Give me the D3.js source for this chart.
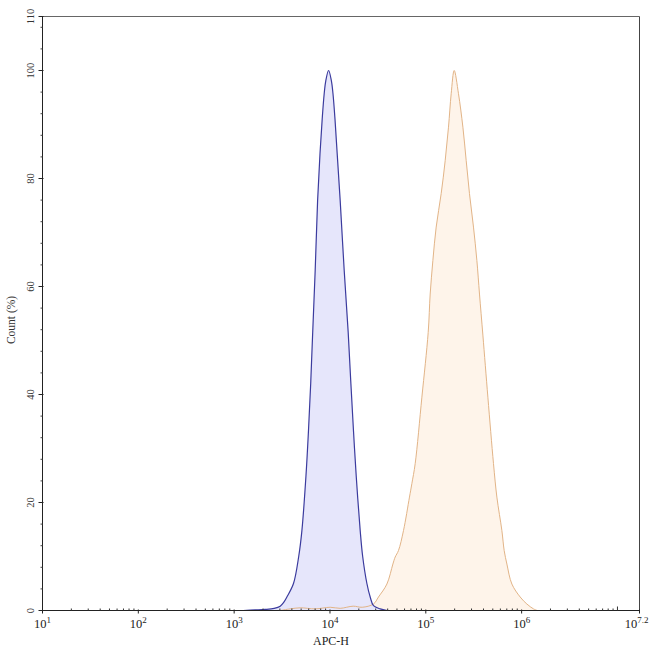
<!DOCTYPE html>
<html>
<head>
<meta charset="utf-8">
<script src="https://cdn.jsdelivr.net/npm/d3@7"></script>
<style>
html,body{margin:0;padding:0;background:#fff;}
svg{display:block;}
</style>
</head>
<body>
<svg id="chart" width="650" height="652"></svg>
<script>
// ---- data (APC-H fluorescence, count %) ----
const blueX = [1243,1658,2108,2617,3023,3289,3551,4161,4716,5093,5619,5965,6291,6601,7010,7427,7866,8293,8700,9042,9672,10344,10750,11280,11890,12780,14070,15490,16530,17590,18770,20670,21940,24280,26280,28440,33410,39530];
const blueY = [0,0.1,0.2,0.4,0.8,1.5,2.5,5,10,14.8,25,33.3,42,51.5,63,75.9,84.6,91,95.7,98.1,100,98.1,95.7,91,84.6,75.9,63,51.5,42,33.3,25,14.8,10,5,2.5,0.9,0.3,0];

const orangeX = [3023,3843,4888,7010,10050,12780,17470,21680,28440,32080,39260,45340,47910,51860,58500,67550,71550,77480,91010,105900,111100,118500,128300,144700,159300,172500,184000,197800,219300,243800,263900,285600,314500,341200,363300,394100,444400,508600,551600,622100,657500,701800,791100,965800,1134000,1329000,1453000];
const orangeY = [0,0.3,0.5,0.3,0.6,0.4,0.8,0.6,1.2,2.5,4.9,8.6,9.9,11.1,14.8,21,23.5,27.2,39.5,51.5,58.6,64.8,71,77.2,83.3,89.5,95.7,100,95.7,89.5,83.3,77.2,71,64.8,58.6,51,39.5,27.2,21,14.8,11.1,8.6,4.9,2.5,1.2,0.3,0];

const xMajorExp = [1,2,3,4,5,6];
const xEndExpLabel = "7.2";
const xDomain = [10, Math.pow(10, 7.23)];
const yDomain = [0, 110];
const yLabelTicks = [0,20,40,60,80,100,110];
const yMinorStep = 4;

const xTitle = "APC-H";
const yTitle = "Count (%)";

// ---- layout ----
const L = 42.5, R = 639.5, T = 16.5, B = 610.5;
const svg = d3.select("#chart");
const x = d3.scaleLog().domain(xDomain).range([L, R]);
const y = d3.scaleLinear().domain(yDomain).range([B, T]);

const curve = d3.curveCatmullRom.alpha(0.5);
const area = (xs, ys) => d3.area()
  .x((d,i) => x(xs[i])).y0(y(0)).y1((d,i) => Math.min(y(0), y(ys[i])))
  .curve(curve)(ys);
const line = (xs, ys) => d3.line()
  .x((d,i) => x(xs[i])).y((d,i) => Math.min(y(0), y(ys[i])))
  .curve(curve)(ys);

const plot = svg.append("g");
plot.append("path").attr("d", area(orangeX, orangeY)).attr("fill", "#fef4ea");
plot.append("path").attr("d", area(blueX, blueY)).attr("fill", "#e6e6fb");
plot.append("path").attr("d", line(orangeX, orangeY)).attr("fill", "none").attr("stroke", "#e2b487").attr("stroke-width", 1);
plot.append("path").attr("d", line(blueX, blueY)).attr("fill", "none").attr("stroke", "#3b3b9e").attr("stroke-width", 1.2);

// ---- frame ----
svg.append("line").attr("x1", L).attr("x2", R).attr("y1", T).attr("y2", T).attr("stroke", "#666");
svg.append("line").attr("x1", R).attr("x2", R).attr("y1", T).attr("y2", B).attr("stroke", "#444");

// ---- x axis ----
const gx = svg.append("g");
gx.append("line").attr("x1", L).attr("x2", R).attr("y1", B).attr("y2", B).attr("stroke", "#222");
const minors = [];
for (let e = 1; e <= 7; e++) {
  for (let m = 2; m <= 9; m++) {
    const v = m * Math.pow(10, e);
    if (v < xDomain[1]) minors.push(v);
  }
}
gx.selectAll("line.minor").data(minors).enter().append("line")
  .attr("x1", d => x(d)).attr("x2", d => x(d))
  .attr("y1", B).attr("y2", B - 2).attr("stroke", "#333");
gx.append("line").attr("x1", x(1e7)).attr("x2", x(1e7)).attr("y1", B).attr("y2", B - 4).attr("stroke", "#333");
gx.selectAll("line.major").data(xMajorExp).enter().append("line")
  .attr("x1", d => x(Math.pow(10, d))).attr("x2", d => x(Math.pow(10, d)))
  .attr("y1", B - 1).attr("y2", B + 3).attr("stroke", "#222");
gx.append("line").attr("x1", R).attr("x2", R).attr("y1", B - 1).attr("y2", B + 3).attr("stroke", "#222");

const xLab = xMajorExp.map(e => ({pos: x(Math.pow(10, e)), sup: String(e), anchor: "middle"}))
  .concat([{pos: 648.5, sup: xEndExpLabel, anchor: "end"}]);
const tl = gx.selectAll("text.xl").data(xLab).enter().append("text")
  .attr("x", d => d.pos).attr("y", 628)
  .attr("text-anchor", d => d.anchor)
  .attr("font-family", "'Liberation Serif', 'Times New Roman', serif")
  .attr("font-size", 12.5).attr("fill", "#222");
tl.append("tspan").text("10");
tl.append("tspan").attr("dy", -5).attr("font-size", 9).text(d => d.sup);

svg.append("text").attr("x", 331).attr("y", 645).attr("text-anchor", "middle")
  .attr("font-family", "'Liberation Serif', 'Times New Roman', serif")
  .attr("font-size", 12).attr("fill", "#222").text(xTitle);

// ---- y axis ----
const gy = svg.append("g");
gy.append("line").attr("x1", L).attr("x2", L).attr("y1", T).attr("y2", B).attr("stroke", "#222");
const yMinors = d3.range(0, yDomain[1] + 0.001, yMinorStep);
gy.selectAll("line.ym").data(yMinors).enter().append("line")
  .attr("x1", L - 2).attr("x2", L).attr("y1", d => y(d)).attr("y2", d => y(d)).attr("stroke", "#444");
gy.selectAll("line.yM").data(yLabelTicks).enter().append("line")
  .attr("x1", L - 4).attr("x2", L + 1).attr("y1", d => y(d)).attr("y2", d => y(d)).attr("stroke", "#222");
gy.selectAll("text.yl").data(yLabelTicks).enter().append("text")
  .attr("transform", d => `translate(33.5,${y(d)}) rotate(-90)`)
  .attr("text-anchor", "middle")
  .attr("font-family", "'Liberation Serif', 'Times New Roman', serif")
  .attr("font-size", 10.5).attr("fill", "#333").text(d => d);

svg.append("text").attr("transform", "translate(14.5,320) rotate(-90)")
  .attr("text-anchor", "middle")
  .attr("font-family", "'Liberation Serif', 'Times New Roman', serif")
  .attr("font-size", 11.5).attr("fill", "#333").text(yTitle);
</script>
</body>
</html>
